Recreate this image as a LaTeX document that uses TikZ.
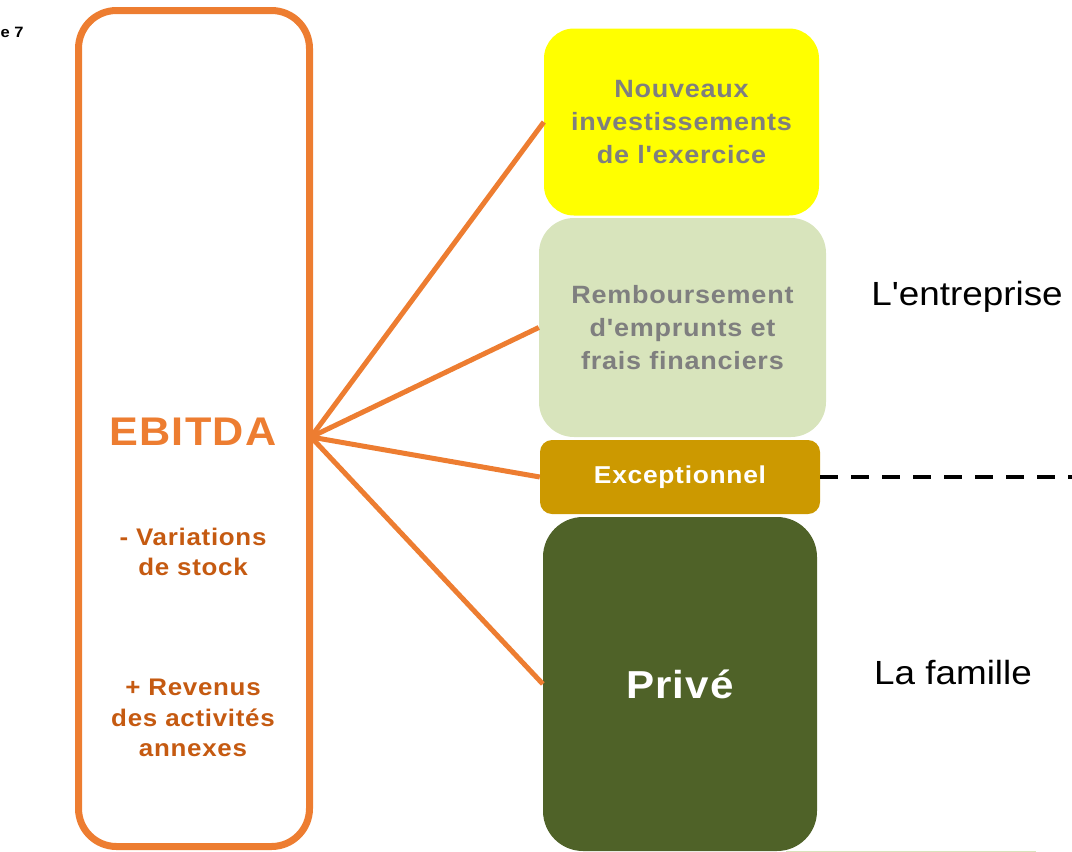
\documentclass[tikz,border=0pt]{standalone}
\usepackage{fontspec}
\setmainfont{Liberation Sans}[FakeStretch=1.1]
\newfontfamily\caixafont{Liberation Sans}[FakeStretch=1.08,LetterSpace=3]
\newfontfamily\rotulofont{Liberation Sans}[FakeStretch=1.1]
\usepackage{tikz}
\usepackage{tkz-euclide}

\definecolor{laranja}{HTML}{ED7D31}
\definecolor{laranjaesc}{HTML}{C55A11}
\definecolor{cinza}{HTML}{7F7F7F}
\definecolor{amarelo}{HTML}{FFFF00}
\definecolor{verdeclaro}{HTML}{D8E4BC}
\definecolor{ouro}{HTML}{CC9900}
\definecolor{verdeesc}{HTML}{4F6228}

\tikzset{
  caixa/.style={rounded corners=30pt, inner sep=0pt, align=center,
    font=\caixafont\bfseries\fontsize{25}{33}\selectfont},
  ligacao/.style={laranja, line width=5pt},
  rotulo/.style={font=\rotulofont\fontsize{33.5}{40}\selectfont}
}

\begin{document}
\begin{tikzpicture}[x=1pt,y=-1pt] %uma unidade = um pixel da figura

\useasboundingbox (0,0) rectangle (1072,852);

%O comando \tkzDefPoints define o ponto de encontro das ligacoes (H) e o fim da linha tracejada (T)
\tkzDefPoints{
311/437/H,
1072/477/T}

%Caixa da esquerda com contorno laranja e os textos do EBITDA
%---------------------------------------------------
\node[draw=laranja, line width=7pt, rounded corners=38pt,
  minimum width=231pt, minimum height=836pt] (ebitda) at (194,428.5) {};
\node[laranja, font=\caixafont\bfseries\fontsize{40}{44}\selectfont] (titulo) at (193,432) {EBITDA};
\node[laranjaesc, align=center, font=\caixafont\bfseries\fontsize{24}{30}\selectfont] (variacoes) at (193,552) {- Variations\\de stock};
\node[laranjaesc, align=center, font=\caixafont\bfseries\fontsize{24}{30.5}\selectfont] (revenus) at (193,718) {+ Revenus\\des activités\\annexes};
%---------------------------------------------------

%Caixas da direita, de cima para baixo
%---------------------------------------------------
\node[caixa, fill=amarelo, text=cinza, minimum width=275pt, minimum height=187pt] (nouveaux) at (681.5,122) {Nouveaux\\investissements\\de l'exercice};
\node[caixa, fill=verdeclaro, text=cinza, rounded corners=35pt, minimum width=287pt, minimum height=219pt] (remb) at (682.5,327.5) {Remboursement\\d'emprunts et\\frais financiers};
\node[caixa, fill=ouro, text=white, rounded corners=12pt, font=\caixafont\bfseries\fontsize{24.4}{28}\selectfont,
  minimum width=280pt, minimum height=74pt] (excep) at (680,477) {Exceptionnel};
\node[caixa, fill=verdeesc, text=white, rounded corners=40pt, font=\caixafont\bfseries\fontsize{39}{44}\selectfont,
  minimum width=274pt, minimum height=334pt] (prive) at (680,684) {Privé};
%---------------------------------------------------

%Ligacoes do EBITDA ate cada caixa
%---------------------------------------------------
\draw[ligacao] (H) -- (nouveaux.west);
\draw[ligacao] (H) -- (remb.west);
\draw[ligacao] (H) -- (excep.west);
\draw[ligacao] (H) -- (prive.west);
%---------------------------------------------------

%Linha tracejada que separa a empresa da familia
%---------------------------------------------------
\draw[black, line width=4pt, dash pattern=on 18pt off 13pt] (excep.east) -- (T);
%---------------------------------------------------

%Rotulos da direita e resto de texto no canto
%---------------------------------------------------
\node[rotulo] (entreprise) at (967,297) {L'entreprise};
\node[rotulo] (famille) at (953,673) {La famille};
\node[anchor=west, font=\bfseries\fontsize{15}{17}\selectfont] (canto) at (-3,32) {e 7};
\draw[verdeclaro, line width=1pt] (786,851.5) -- (1036,851.5);
%---------------------------------------------------

\end{tikzpicture}
\end{document}
